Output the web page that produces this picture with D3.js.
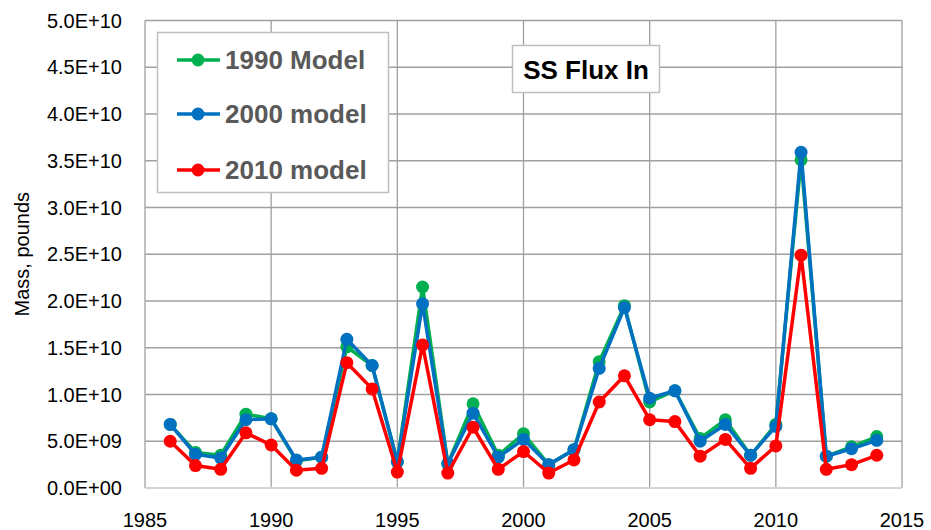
<!DOCTYPE html>
<html lang="en">
<head>
<meta charset="UTF-8">
<title>SS Flux In</title>
<script src="https://d3js.org/d3.v7.min.js"></script>
<style>
    body { margin: 0; background: #fff; }
    svg { display: block; font-family: "Liberation Sans", Arial, sans-serif; }
    .grid line { stroke: #a0a0a0; stroke-width: 1.3px; }
    .tick-label { font-size: 20px; fill: #000; }
    .legend-text { font-size: 26px; font-weight: bold; fill: #595959; }
</style>
</head>
<body>
<svg width="931" height="530"></svg>
<script>
    // years and series values, in units of 1e9 pounds
    const years = [1986, 1987, 1988, 1989, 1990, 1991, 1992, 1993, 1994, 1995,
                   1996, 1997, 1998, 1999, 2000, 2001, 2002, 2003, 2004, 2005,
                   2006, 2007, 2008, 2009, 2010, 2011, 2012, 2013, 2014];
    const model1990 = [6.8, 3.8, 3.5, 7.9, 7.4, 2.9, 3.3, 15.1, 13.1, 2.8,
                       21.5, 2.6, 9.0, 3.5, 5.8, 2.5, 4.1, 13.5, 19.5, 9.2,
                       10.4, 5.3, 7.3, 3.5, 6.8, 35.1, 3.4, 4.4, 5.5];
    const model2000 = [6.8, 3.6, 3.2, 7.3, 7.4, 3.0, 3.3, 15.9, 13.1, 2.8,
                       19.7, 2.6, 8.0, 3.3, 5.2, 2.5, 4.1, 12.8, 19.3, 9.6,
                       10.4, 5.0, 6.8, 3.5, 6.6, 35.9, 3.4, 4.2, 5.1];
    const model2010 = [5.0, 2.4, 2.0, 5.9, 4.6, 1.9, 2.1, 13.4, 10.6, 1.7,
                       15.3, 1.6, 6.5, 2.0, 3.9, 1.6, 3.0, 9.2, 12.0, 7.3,
                       7.1, 3.4, 5.2, 2.1, 4.5, 24.9, 2.0, 2.5, 3.5];
    const seriesNames = ["1990 Model", "2000 model", "2010 model"];
    const seriesColors = ["#00b050", "#0070c0", "#ff0000"];
    const yTicks = [0, 5e9, 1e10, 1.5e10, 2e10, 2.5e10, 3e10, 3.5e10, 4e10, 4.5e10, 5e10];
    const xTicks = [1985, 1990, 1995, 2000, 2005, 2010, 2015];

    const svg = d3.select("svg");
    const plotLeft = 145, plotRight = 902, plotTop = 20.5, plotBottom = 488;

    const x = d3.scaleLinear().domain([1985, 2015]).range([plotLeft, plotRight]);
    const y = d3.scaleLinear().domain([0, 5e10]).range([plotBottom, plotTop]);

    // gridlines
    const grid = svg.append("g").attr("class", "grid");
    grid.selectAll(".h").data(yTicks.slice(1)).enter().append("line")
        .attr("x1", plotLeft).attr("x2", plotRight)
        .attr("y1", d => y(d)).attr("y2", d => y(d));
    grid.selectAll(".v").data(xTicks).enter().append("line")
        .attr("x1", d => x(d)).attr("x2", d => x(d))
        .attr("y1", plotTop).attr("y2", plotBottom);
    svg.append("line")
        .attr("x1", plotLeft).attr("x2", plotRight)
        .attr("y1", plotBottom).attr("y2", plotBottom)
        .attr("stroke", "#d4d4d4").attr("stroke-width", 2);

    // y tick labels
    const fmt = v => {
        if (v === 0) return "0.0E+00";
        const e = Math.floor(Math.log10(v));
        return (v / Math.pow(10, e)).toFixed(1) + "E+" + String(e).padStart(2, "0");
    };
    svg.selectAll(".ylab").data(yTicks).enter().append("text")
        .attr("class", "tick-label")
        .attr("x", 122).attr("y", d => y(d) + 7)
        .attr("text-anchor", "end")
        .text(fmt);

    // x tick labels
    svg.selectAll(".xlab").data(xTicks).enter().append("text")
        .attr("class", "tick-label")
        .attr("x", d => x(d)).attr("y", 527)
        .attr("text-anchor", "middle")
        .text(d => d);

    // y axis title
    svg.append("text")
        .attr("transform", `translate(29,${(plotTop + plotBottom) / 2}) rotate(-90)`)
        .attr("text-anchor", "middle")
        .style("font-size", "20px")
        .text("Mass, pounds");

    // series
    const allSeries = [model1990, model2000, model2010];
    const line = d3.line().x(d => x(d.year)).y(d => y(d.value));
    allSeries.forEach((vals, i) => {
        const pts = years.map((yr, j) => ({ year: yr, value: vals[j] * 1e9 }));
        const g = svg.append("g");
        g.append("path").datum(pts)
            .attr("d", line)
            .attr("fill", "none")
            .attr("stroke", seriesColors[i])
            .attr("stroke-width", 3.5)
            .attr("stroke-linejoin", "round");
        g.selectAll("circle").data(pts).enter().append("circle")
            .attr("cx", d => x(d.year)).attr("cy", d => y(d.value))
            .attr("r", 6.5)
            .attr("fill", seriesColors[i]);
    });

    // legend
    const legend = svg.append("g");
    legend.append("rect")
        .attr("x", 157.5).attr("y", 32.5).attr("width", 231).attr("height", 160)
        .attr("fill", "#fff").attr("stroke", "#bfbfbf").attr("stroke-width", 1.5);
    const legendY = [60, 114, 170];
    seriesNames.forEach((name, i) => {
        legend.append("line")
            .attr("x1", 177).attr("x2", 220)
            .attr("y1", legendY[i]).attr("y2", legendY[i])
            .attr("stroke", seriesColors[i]).attr("stroke-width", 3.5);
        legend.append("circle")
            .attr("cx", 198).attr("cy", legendY[i]).attr("r", 6.5)
            .attr("fill", seriesColors[i]);
        legend.append("text")
            .attr("class", "legend-text")
            .attr("x", 225).attr("y", legendY[i] + 9)
            .text(name);
    });

    // title box
    svg.append("rect")
        .attr("x", 512.5).attr("y", 45.5).attr("width", 147).attr("height", 47)
        .attr("fill", "#fff").attr("stroke", "#bfbfbf").attr("stroke-width", 1.5);
    svg.append("text")
        .attr("x", 586).attr("y", 79)
        .attr("text-anchor", "middle")
        .style("font-size", "26px").style("font-weight", "bold")
        .text("SS Flux In");
</script>
</body>
</html>
